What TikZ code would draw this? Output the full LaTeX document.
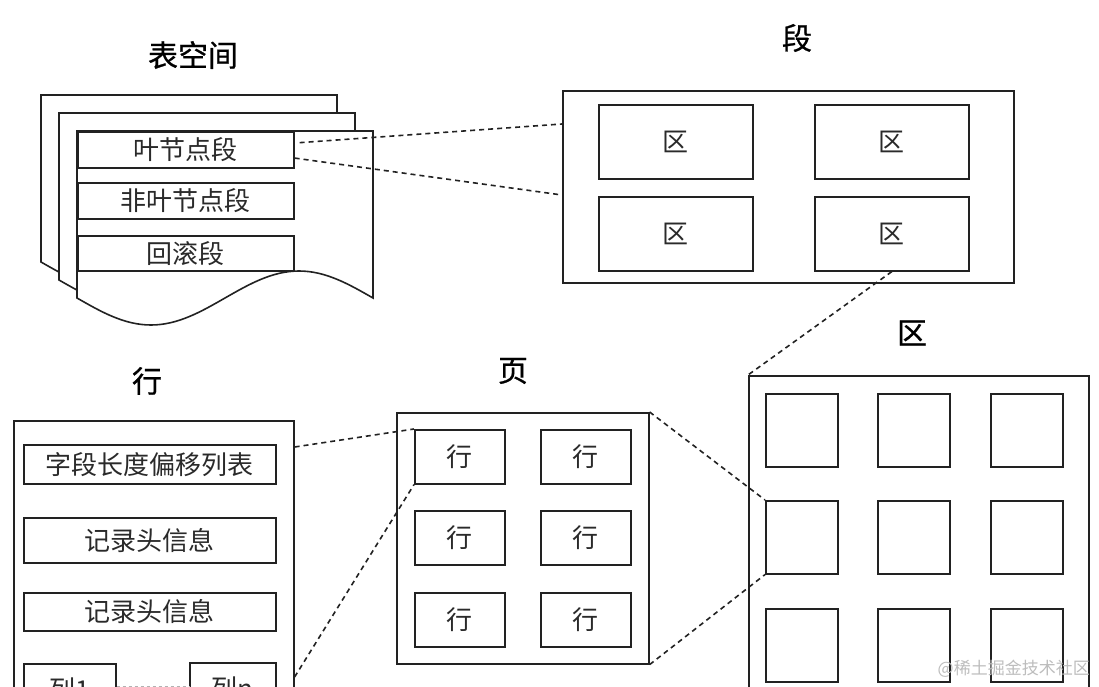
\documentclass[tikz,border=0pt]{standalone}
\usepackage{fontspec}
\setmainfont{Noto Sans CJK SC}
\newfontfamily\ttlfont[FakeBold=0.8]{Noto Sans CJK SC}
\usetikzlibrary{calc}
\definecolor{linec}{HTML}{222222}
\definecolor{textc}{HTML}{2A2A2A}
\definecolor{wmark}{HTML}{BDBDBD}
\begin{document}
\begin{tikzpicture}[x=1pt,y=-1pt,
  box/.style={draw=linec, line width=1.6pt, fill=white, inner sep=0pt, anchor=north west, text=textc, font=\fontsize{26}{26}\selectfont},
  ttl/.style={font=\ttlfont\fontsize{30}{30}\selectfont, text=black, inner sep=0pt},
  conn/.style={draw=linec, line width=1.6pt, dash pattern=on 5pt off 4pt},
  docpage/.style={draw=linec, line width=1.6pt, fill=white, line join=miter},
]
\fill[white] (0,0) rectangle (1099,687);
\clip (0,0) rectangle (1099,687);

% ---------- titles ----------
\node[ttl] (tTS)  at (193,55)  {表空间};
\node[ttl] (tSeg) at (797,38)  {段};
\node[ttl] (tZone) at (912,333) {区};
\node[ttl] (tPage) at (513,371) {页};
\node[ttl] (tRow) at (147,381) {行};

% ---------- tablespace (three document pages) ----------
\foreach \dx/\dy in {41/95, 59/113, 77/131}{
  \path[docpage] (\dx,\dy) -- (\dx+296,\dy) -- (\dx+296,\dy+167)
    sin (\dx+222,\dy+140) cos (\dx+148,\dy+167) sin (\dx+74,\dy+194) cos (\dx,\dy+167) -- cycle;
}
\node[box, minimum width=216pt, minimum height=36pt] (leaf)    at (77,131) {叶节点段};
\node[box, minimum width=216pt, minimum height=36pt] (nonleaf) at (77,182) {非叶节点段};
\node[box, minimum width=216pt, minimum height=35pt] (rollb)   at (77,235) {回滚段};

% ---------- segment ----------
\node[box, minimum width=451pt, minimum height=192pt] (seg) at (562,90) {};
\node[box, minimum width=154pt, minimum height=74pt] (seg1) at (598,104) {区};
\node[box, minimum width=154pt, minimum height=74pt] (seg2) at (814,104) {区};
\node[box, minimum width=154pt, minimum height=74pt] (seg3) at (598,196) {区};
\node[box, minimum width=154pt, minimum height=74pt] (seg4) at (814,196) {区};

% ---------- zone ----------
\node[box, minimum width=340pt, minimum height=360pt] (zone) at (748,375) {};
\foreach \r/\y in {1/393, 2/500, 3/608}{
  \foreach \c/\x in {1/765, 2/877, 3/990}{
    \node[box, minimum width=72pt, minimum height=73pt] (z\r\c) at (\x,\y) {};
  }
}

% ---------- page ----------
\node[box, minimum width=252pt, minimum height=251pt] (page) at (396,412) {};
\foreach \r/\y in {1/429, 2/510, 3/592}{
  \foreach \c/\x in {1/414, 2/540}{
    \node[box, minimum width=90pt, minimum height=54pt] (p\r\c) at (\x,\y) {行};
  }
}

% ---------- row ----------
\node[box, minimum width=280pt, minimum height=320pt] (rowbox) at (13,420) {};
\node[box, minimum width=252pt, minimum height=39pt] (r1) at (23,444) {字段长度偏移列表};
\node[box, minimum width=252pt, minimum height=45pt] (r2) at (23,517) {记录头信息};
\node[box, minimum width=252pt, minimum height=38pt] (r3) at (23,592) {记录头信息};
\node[box, minimum width=92pt, minimum height=52pt] (c1) at (23,663) {列1};
\node[box, minimum width=86pt, minimum height=52pt] (cn) at (189,662) {列n};
\draw[draw=linec!35, line width=1pt, dash pattern=on 3pt off 3pt] (c1.east |- 0,686) -- (cn.west |- 0,686);

% ---------- connectors ----------
\coordinate (leafA) at ($(leaf.north east)!0.31!(leaf.south east)+(5,0)$);
\coordinate (leafB) at ($(leaf.north east)!0.72!(leaf.south east)$);
\coordinate (segA) at ($(seg.north west)+(0,34)$);
\coordinate (segB) at ($(seg.north west)+(0,105)$);
\draw[conn] (leafA) -- (segA);
\draw[conn] (leafB) -- (segB);
\draw[conn] (seg4.south) -- (zone.north west);
\draw[conn] (page.north east) -- (z21.north west);
\draw[conn] (page.south east) -- (z21.south west);
\coordinate (rowA) at ($(rowbox.north east)+(0,27)$);
\coordinate (rowB) at ($(rowbox.north east)+(0,257)$);
\draw[conn] (rowA) -- (p11.north west);
\draw[conn] (rowB) -- (p11.south west);

% ---------- watermark ----------
\node[font=\fontsize{17}{17}\selectfont, text=wmark, anchor=east, inner sep=0pt] (wm) at (1090,669) {@稀土掘金技术社区};
\end{tikzpicture}
\end{document}
